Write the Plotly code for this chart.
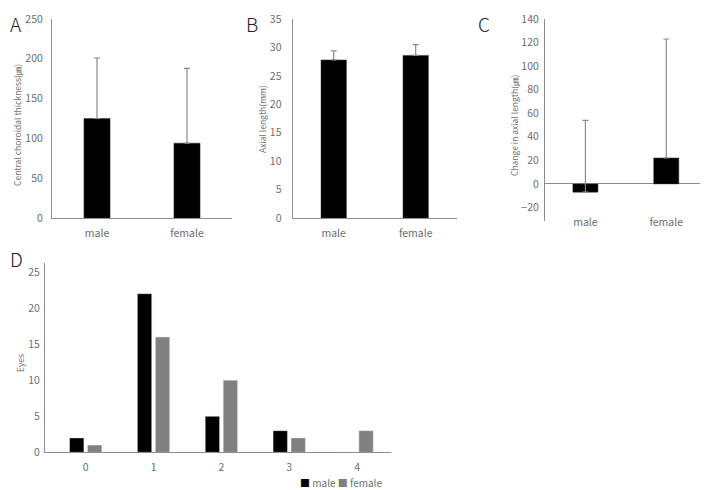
import plotly.graph_objects as go

# ---------------- data ----------------
sex_categories = ["male", "female"]

choroid_mean = [125, 94]
choroid_sd = [76, 94]

axial_mean = [27.8, 28.6]
axial_sd = [1.6, 1.9]

change_mean = [-7, 22]
change_sd = [61, 101]

d_categories = ["0", "1", "2", "3", "4"]
d_male = [2, 22, 5, 3, 0]
d_female = [1, 16, 10, 2, 3]

panel_letters = ["A", "B", "C", "D"]
y_titles = ["Central choroidal thickness(㎛)", "Axial length(mm)",
            "Change in axial length(㎛)", "Eyes"]

# ---------------- style ----------------
OFF = 8  # page body margin
W, H = 708 - OFF, 490 - OFF
GRAY_TXT = "#6e6e6e"
AXIS_COL = "#8c8c8c"
ERR_COL = "#8a8a8a"
FEMALE_COL = "#808080"
FONT = "Noto Sans CJK JP, Noto Sans, Liberation Sans, sans-serif"

def px(x):
    return (x - OFF) / W

def py(y):
    return 1 - (y - OFF) / H

fig = go.Figure()

def err(arr):
    return dict(type="data", array=arr, arrayminus=[0] * len(arr), symmetric=False,
                color=ERR_COL, thickness=1.2, width=3)

bar_marker = dict(color="black", line=dict(color="#333", width=0.5))
fig.add_trace(go.Bar(x=sex_categories, y=choroid_mean, error_y=err(choroid_sd),
                     marker=bar_marker, width=0.29, xaxis="x", yaxis="y", showlegend=False))
fig.add_trace(go.Bar(x=sex_categories, y=axial_mean, error_y=err(axial_sd),
                     marker=bar_marker, width=0.31, xaxis="x2", yaxis="y2", showlegend=False))
fig.add_trace(go.Bar(x=sex_categories, y=change_mean, error_y=err(change_sd),
                     marker=bar_marker, width=0.31, xaxis="x3", yaxis="y3", showlegend=False))

fig.add_trace(go.Bar(x=d_categories, y=d_male, name="male",
                     marker=dict(color="black"), xaxis="x4", yaxis="y4", showlegend=False))
fig.add_trace(go.Bar(x=d_categories, y=d_female, name="female",
                     marker=dict(color=FEMALE_COL), xaxis="x4", yaxis="y4", showlegend=False))

ytickfont = dict(family=FONT, size=10.5, color=GRAY_TXT)
xtickfont = dict(family=FONT, size=10.5, color=GRAY_TXT)
titlefont = dict(family=FONT, size=8.5, color=GRAY_TXT)

def xax(dom, anchor, rng, showline=True, standoff=5):
    return dict(domain=dom, anchor=anchor, type="category", range=rng,
                showline=showline, linecolor=AXIS_COL, linewidth=1.2,
                ticks="", tickfont=xtickfont, ticklabelstandoff=standoff,
                showgrid=False, zeroline=False, fixedrange=True, automargin=False)

def yax(dom, anchor, rng, dtick, standoff, tickvals=None):
    d = dict(domain=dom, anchor=anchor, range=rng, showline=True, linecolor=AXIS_COL,
             linewidth=1.2, ticks="", tickfont=ytickfont, ticklabelstandoff=standoff,
             showgrid=False, zeroline=False, automargin=False, fixedrange=True)
    if tickvals is not None:
        d["tickmode"] = "array"
        d["tickvals"] = tickvals
    else:
        d["dtick"] = dtick
        d["tick0"] = 0
    return d

yA = [py(218), py(19)]
layout = dict(
    width=W, height=H, margin=dict(l=0, r=0, t=0, b=0, autoexpand=False),
    paper_bgcolor="white", plot_bgcolor="white",
    barmode="group", bargap=0.47, bargroupgap=0.2,
    font=dict(family=FONT, color=GRAY_TXT),
    xaxis=xax([px(52), px(232)], "y", [-0.5, 1.5]),
    yaxis=yax(yA, "x", [0, 250], 50, 6),
    xaxis2=xax([px(292.7), px(456.7)], "y2", [-0.5, 1.5]),
    yaxis2=yax(yA, "x2", [0, 35], 5, 8),
    xaxis3=xax([px(545), px(706.7)], "y3", [-0.5, 1.5], showline=False, standoff=-7),
    yaxis3=yax([py(221), py(19)], "x3", [-31.5, 140], 20, 3,
               tickvals=[-20, 0, 20, 40, 60, 80, 100, 120, 140]),
    xaxis4=xax([px(45), px(391)], "y4", [-0.6, 4.5]),
    yaxis4=yax([py(452.3), py(262.7)], "x4", [0, 26.3], 5, 2),
    showlegend=False,
)
fig.update_layout(**layout)
fig.update_layout(yaxis3=dict(zeroline=True, zerolinecolor=AXIS_COL, zerolinewidth=1.2))

# y-axis titles (rotated text)
title_pos = [(17, 125), (262, 119), (514, 125), (20, 363)]
for t, (tx, ty) in zip(y_titles, title_pos):
    fig.add_annotation(text=t, x=px(tx), y=py(ty), xref="paper", yref="paper",
                       showarrow=False, textangle=-90, xanchor="center", yanchor="middle",
                       font=titlefont)

# legend drawn as text under panel D
legend_text = ('<span style="color:black">■</span> male '
               '<span style="color:%s">■</span> female' % FEMALE_COL)
fig.add_annotation(text=legend_text, x=px(298), y=py(482), xref="paper", yref="paper",
                   showarrow=False, xanchor="left", yanchor="middle",
                   font=dict(family=FONT, size=10, color=GRAY_TXT))

letter_pos = [(8, 8), (244, 8), (476, 8), (8, 243)]
for letter, (lx, ly) in zip(panel_letters, letter_pos):
    fig.add_annotation(text=letter, x=px(lx), y=py(ly), xref="paper", yref="paper",
                       showarrow=False, xanchor="left", yanchor="top",
                       font=dict(family=FONT, size=19, color="#222", weight=300))

fig.write_html("out.html")
